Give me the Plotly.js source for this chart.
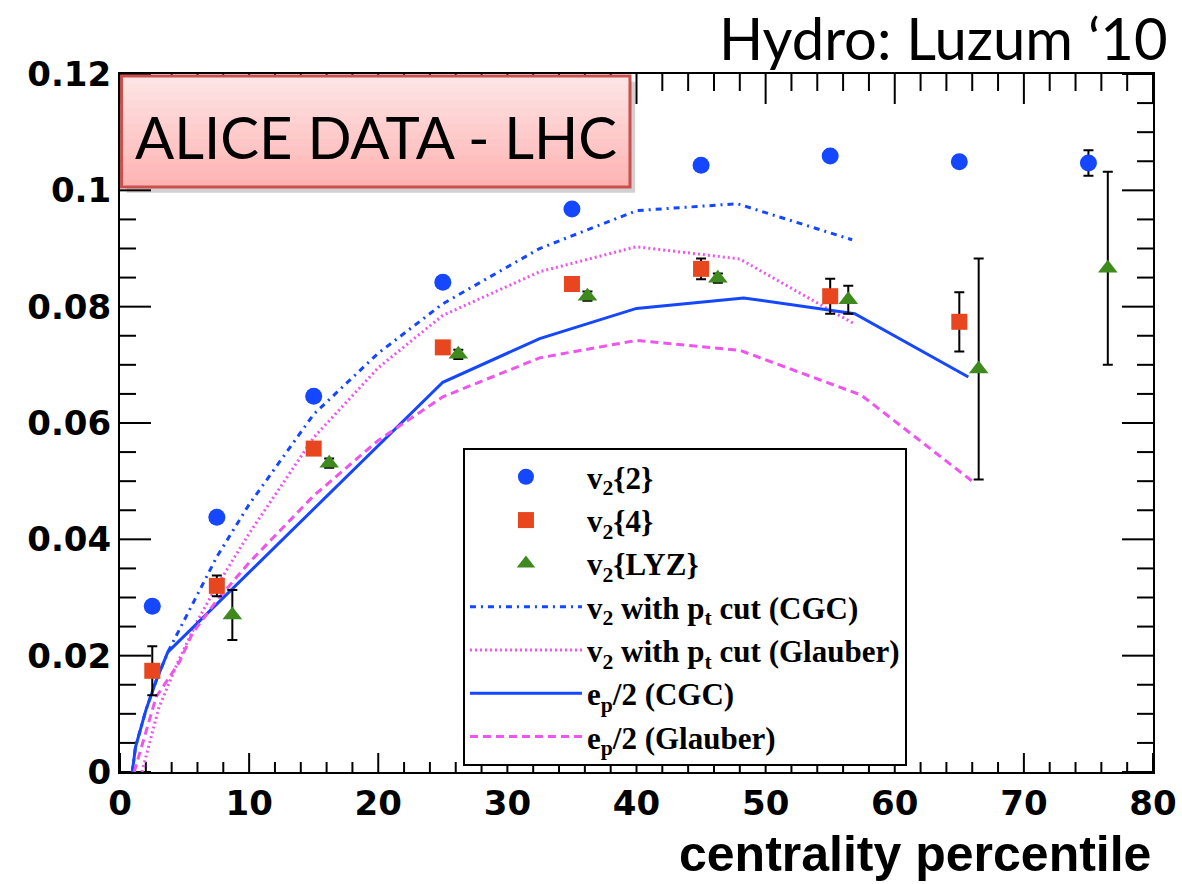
<!DOCTYPE html>
<html>
<head>
<meta charset="utf-8">
<script src="https://cdn.plot.ly/plotly-3.0.1.min.js"></script>
<style>html,body{margin:0;padding:0;background:#fff;}#chart{width:1182px;height:884px;}</style>
</head>
<body>
<div id="chart"></div>
<script>
// ---- data ----
const v2_2_x = [2.5, 7.5, 15, 25, 35, 45, 55, 65, 75];
const v2_2_y = [0.0285, 0.0438, 0.0646, 0.0842, 0.0968, 0.1043, 0.1059, 0.1049, 0.1047];
const v2_2_err = [0.0005, 0.0005, 0.0005, 0.0005, 0.0005, 0.0005, 0.0005, 0.0005, 0.0022];

const v2_4_x = [2.5, 7.5, 15, 25, 35, 45, 55, 65];
const v2_4_y = [0.0174, 0.0320, 0.0556, 0.0730, 0.0839, 0.0865, 0.0818, 0.0774];
const v2_4_err = [0.0042, 0.0018, 0.0008, 0.0008, 0.0008, 0.0018, 0.0030, 0.0051];

const v2_lyz_x = [8.7, 16.2, 26.2, 36.2, 46.3, 56.4, 66.5, 76.5];
const v2_lyz_y = [0.0270, 0.0531, 0.0718, 0.0818, 0.0849, 0.0812, 0.0693, 0.0866];
const v2_lyz_err = [0.0043, 0.0008, 0.0008, 0.0008, 0.0008, 0.0024, 0.0190, 0.0166];

const cgc_pt_x = [0.95, 1.2, 2.0, 2.8, 3.7, 5.2, 7.5, 10, 15, 20, 25, 32.5, 40, 47.8, 56.7];
const cgc_pt_y = [0, 0.0043, 0.0106, 0.0157, 0.0206, 0.0270, 0.0370, 0.0460, 0.0615, 0.0720, 0.0805, 0.0900, 0.0965, 0.0977, 0.0915];

const gl_pt_x = [1.7, 3.0, 4.5, 6.0, 7.5, 10, 15, 20, 25, 32.5, 40, 48, 56.9];
const gl_pt_y = [0, 0.0110, 0.0190, 0.0260, 0.0320, 0.0410, 0.0575, 0.0695, 0.0785, 0.0860, 0.0903, 0.0882, 0.0770];

const cgc_ep_x = [0.95, 1.2, 2.0, 2.8, 3.7, 10, 15, 20, 25, 32.5, 40, 48.3, 56.9, 65.7];
const cgc_ep_y = [0, 0.0043, 0.0106, 0.0157, 0.0206, 0.0343, 0.0452, 0.0560, 0.0670, 0.0745, 0.0797, 0.0815, 0.0788, 0.0679];

const gl_ep_x = [1.1, 2.8, 4.6, 5.6, 7.5, 10, 15, 20, 25, 32.5, 40, 48, 57.4, 62.6, 66];
const gl_ep_y = [0, 0.0129, 0.0189, 0.0238, 0.0295, 0.0360, 0.0475, 0.0570, 0.0645, 0.0712, 0.0742, 0.0725, 0.0648, 0.0558, 0.0500];

// axis tick values
const xMajorTicks = [0, 10, 20, 30, 40, 50, 60, 70, 80];
const xMinorTicks = [2, 4, 6, 8, 12, 14, 16, 18, 22, 24, 26, 28, 32, 34, 36, 38, 42, 44, 46, 48,
                     52, 54, 56, 58, 62, 64, 66, 68, 72, 74, 76, 78];
const yMajorTicks = [0, 0.02, 0.04, 0.06, 0.08, 0.1, 0.12];
const yMinorTicks = [0.005, 0.01, 0.015, 0.025, 0.03, 0.035, 0.045, 0.05, 0.055, 0.065, 0.07, 0.075,
                     0.085, 0.09, 0.095, 0.105, 0.11, 0.115];

const legendNames = [
  'v<sub>2</sub>{2}', 'v<sub>2</sub>{4}', 'v<sub>2</sub>{LYZ}',
  'v<sub>2</sub> with p<sub>t</sub> cut (CGC)', 'v<sub>2</sub> with p<sub>t</sub> cut (Glauber)',
  'e<sub>p</sub>/2 (CGC)', 'e<sub>p</sub>/2 (Glauber)'
];
const xTitle = 'centrality percentile';
const boxLabel = 'ALICE DATA - LHC';
const cornerLabel = 'Hydro: Luzum \u201810';

// ---- styles ----
const BLUE = '#1447ff';
const MAG = '#ee55ee';
const errStyle = {type: 'data', visible: true, color: 'black', thickness: 2, width: 5};
const XR = [0, 80], YR = [0, 0.12];
const PW = 1033, PH = 698; // plot area size in px

// tick marks drawn through the axes' own scales (inside ticks, all four sides)
const tx = [], ty = [];
const xu = (XR[1] - XR[0]) / PW, yu = (YR[1] - YR[0]) / PH;
function addXTick(v, lb, lt) {
  tx.push(v, v, null, v, v, null);
  ty.push(YR[0], YR[0] + lb * yu, null, YR[1], YR[1] - lt * yu, null);
}
function addYTick(v, l) {
  tx.push(XR[0], XR[0] + l * xu, null, XR[1], XR[1] - l * xu, null);
  ty.push(v, v, null, v, v, null);
}
xMajorTicks.forEach(v => addXTick(v, 19, 30));
xMinorTicks.forEach(v => addXTick(v, 10, 17));
yMajorTicks.forEach(v => addYTick(v, 31));
yMinorTicks.forEach(v => addYTick(v, 16));

const traces = [
  {x: tx, y: ty, mode: 'lines', showlegend: false, hoverinfo: 'skip', connectgaps: false,
   line: {color: 'black', width: 2}},
  {x: cgc_pt_x, y: cgc_pt_y, mode: 'lines', name: legendNames[3], legendrank: 4,
   line: {color: BLUE, width: 3, dash: '6px,5px,2px,5px'}},
  {x: gl_pt_x, y: gl_pt_y, mode: 'lines', name: legendNames[4], legendrank: 5,
   line: {color: MAG, width: 3, dash: '2px,3px'}},
  {x: cgc_ep_x, y: cgc_ep_y, mode: 'lines', name: legendNames[5], legendrank: 6,
   line: {color: BLUE, width: 3, dash: 'solid'}},
  {x: gl_ep_x, y: gl_ep_y, mode: 'lines', name: legendNames[6], legendrank: 7,
   line: {color: MAG, width: 3, dash: '8px,5px'}},
  {x: v2_2_x, y: v2_2_y, mode: 'markers', name: legendNames[0], legendrank: 1,
   error_y: Object.assign({array: v2_2_err}, errStyle),
   marker: {symbol: 'circle', size: 17, color: BLUE}},
  {x: v2_4_x, y: v2_4_y, mode: 'markers', name: legendNames[1], legendrank: 2,
   error_y: Object.assign({array: v2_4_err}, errStyle),
   marker: {symbol: 'square', size: 16, color: '#e8461e'}},
  {x: v2_lyz_x, y: v2_lyz_y, mode: 'markers', name: legendNames[2], legendrank: 3,
   error_y: Object.assign({array: v2_lyz_err}, errStyle),
   marker: {symbol: 'triangle-up', size: 17, color: '#3f8a1f'}}
];

const shapes = [];
// ALICE label box (paper coords)
const bx0 = 0.0015, bx1 = 0.4937, by0 = 0.838, by1 = 0.997;
shapes.push({type: 'rect', xref: 'paper', yref: 'paper', x0: bx0 + 0.005, x1: bx1 + 0.005, y0: by0 - 0.008, y1: by1 - 0.008,
  line: {width: 0}, fillcolor: 'rgba(0,0,0,0.18)', layer: 'above'});
const nb = 14;
for (let i = 0; i < nb; i++) {
  const t = i / (nb - 1);
  const g = Math.round(228 - t * 48);
  const r = Math.round(253 + t * 2);
  shapes.push({type: 'rect', xref: 'paper', yref: 'paper', x0: bx0, x1: bx1,
    y1: by1 - (by1 - by0) * i / nb, y0: by1 - (by1 - by0) * (i + 1) / nb - 0.0005,
    line: {width: 0}, fillcolor: `rgb(${r},${g},${g})`, layer: 'above'});
}
shapes.push({type: 'rect', xref: 'paper', yref: 'paper', x0: bx0, x1: bx1, y0: by0, y1: by1,
  line: {color: '#c9504d', width: 3}, fillcolor: 'rgba(0,0,0,0)', layer: 'above'});

const tickFont = {family: 'DejaVu Sans', size: 34, color: 'black', weight: 'bold'};

const layout = {
  width: 1182, height: 884,
  margin: {l: 120, r: 29, t: 74, b: 112},
  paper_bgcolor: 'white', plot_bgcolor: 'white',
  showlegend: true,
  legend: {x: 0.332, y: 0.464, xanchor: 'left', yanchor: 'top',
    bgcolor: 'white', bordercolor: 'black', borderwidth: 2,
    font: {family: 'Liberation Serif', size: 31, color: 'black', weight: 'bold'},
    itemwidth: 112, tracegroupgap: 0},
  xaxis: {range: XR, dtick: 10, tick0: 0, ticks: '',
    showline: true, linewidth: 2, linecolor: 'black', mirror: true, showgrid: false, zeroline: false,
    tickfont: tickFont},
  yaxis: {range: YR, dtick: 0.02, tick0: 0, ticks: '',
    showline: true, linewidth: 2, linecolor: 'black', mirror: true, showgrid: false, zeroline: false,
    tickfont: tickFont},
  shapes: shapes,
  annotations: [
    {xref: 'paper', yref: 'paper', x: (bx0 + bx1) / 2, y: 0.911, xanchor: 'center', yanchor: 'middle',
     text: boxLabel, showarrow: false, font: {family: 'Lato', size: 58, color: 'black'}},
    {xref: 'paper', yref: 'paper', x: 1.0165, y: 1.053, xanchor: 'right', yanchor: 'middle',
     text: cornerLabel, showarrow: false, font: {family: 'Lato', size: 58, color: 'black'}},
    {xref: 'paper', yref: 'paper', x: 1.0, y: -0.118, xanchor: 'right', yanchor: 'middle',
     text: xTitle, showarrow: false, font: {family: 'Liberation Sans', size: 50, color: 'black', weight: 'bold'}}
  ]
};

Plotly.newPlot('chart', traces, layout, {displayModeBar: false, staticPlot: true});
</script>
</body>
</html>
